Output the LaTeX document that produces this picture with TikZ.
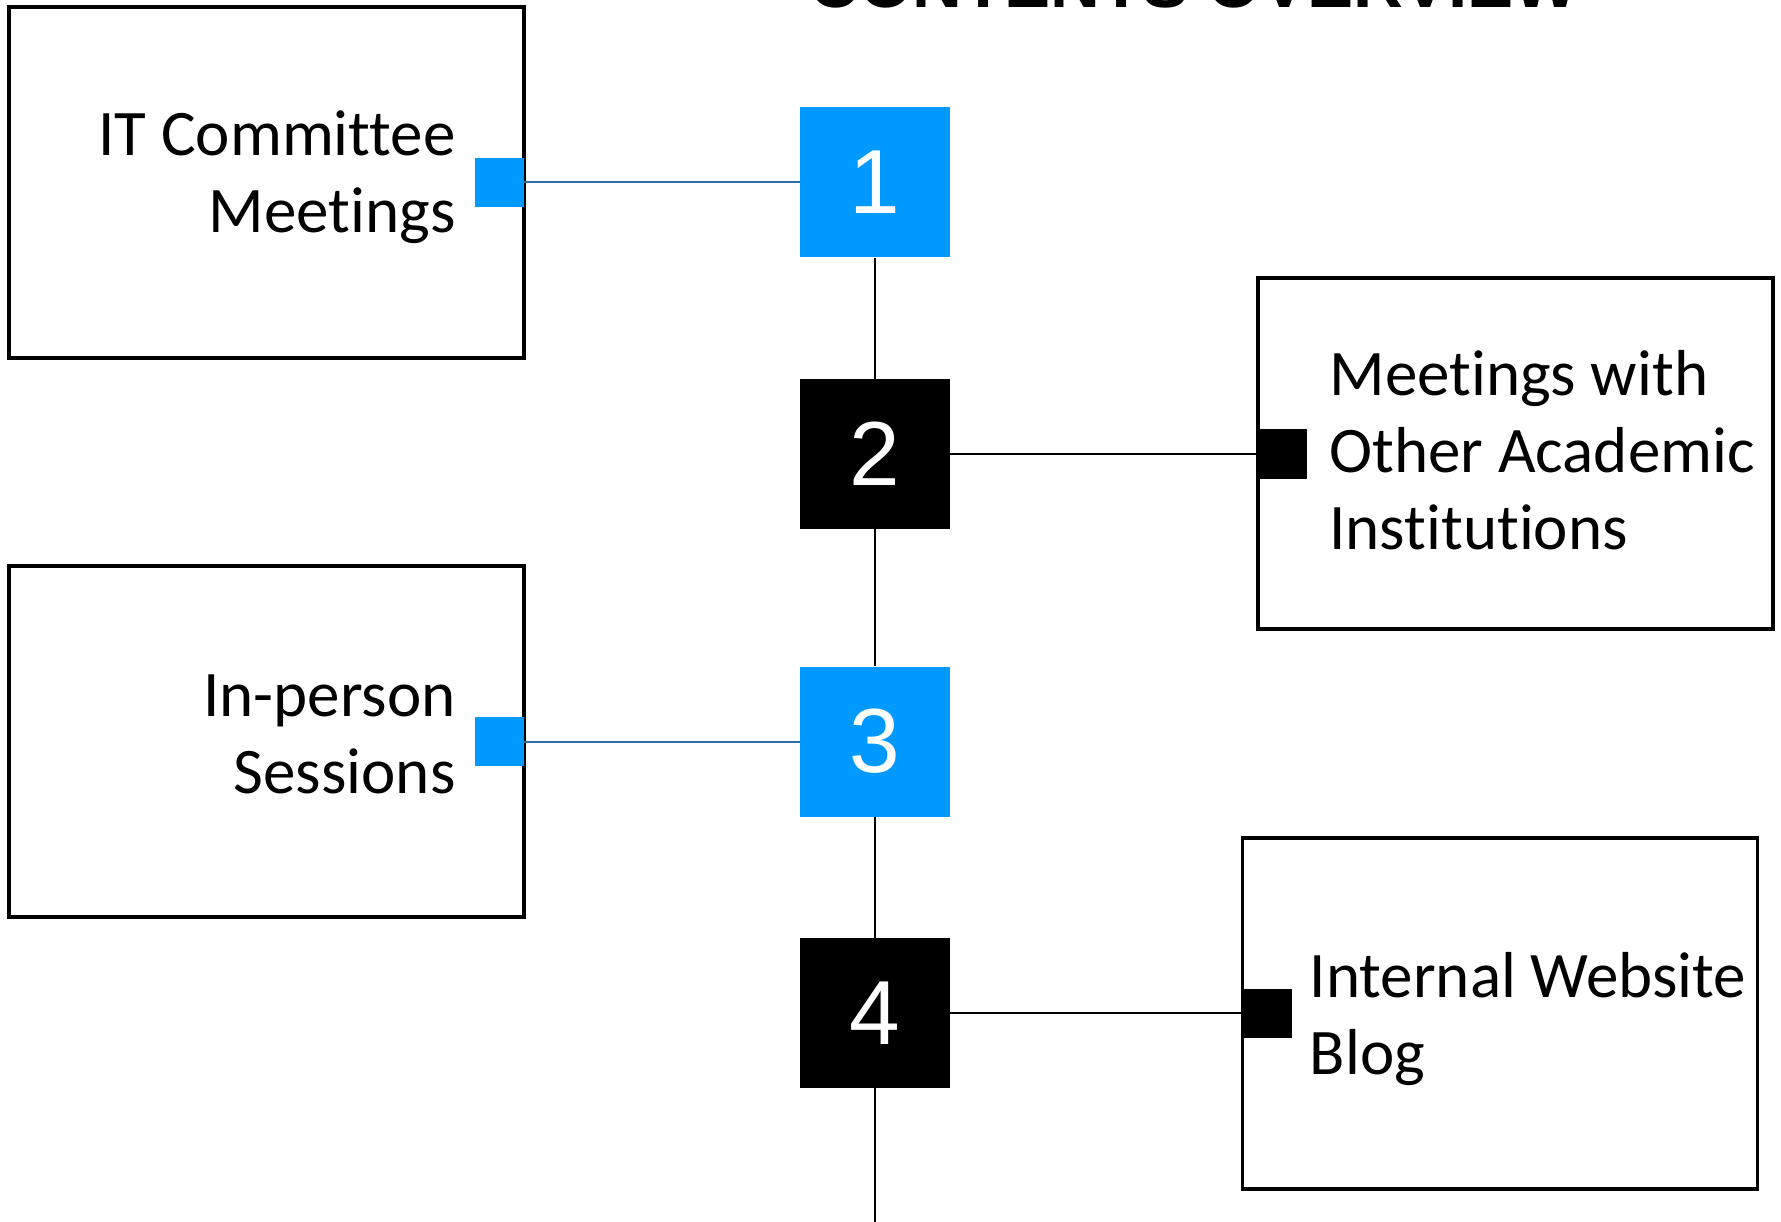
\documentclass[tikz,border=0pt]{standalone}
\usepackage{fontspec}
\setmainfont{Carlito}[RawFeature=-liga]
\newfontfamily\digitfont{Liberation Sans}
\usepackage{tikz}
\usetikzlibrary{positioning}

\definecolor{itemblue}{HTML}{0099FF}
\definecolor{linkblue}{HTML}{2E6DA4}

\begin{document}
\begin{tikzpicture}[x=1pt,y=-1pt,
  topicbox/.style = {draw, line width=3.5pt, minimum width=515pt, minimum height=351pt, inner sep=0pt},
  numbox/.style = {minimum width=150pt, minimum height=150pt, inner sep=0pt, text=white, font=\digitfont\fontsize{91}{94}\selectfont},
  tab/.style = {minimum width=49pt, minimum height=49pt, inner sep=0pt},
  caption/.style = {inner sep=0pt, font=\fontsize{65}{77}\selectfont}]

\useasboundingbox (0,0) rectangle (1781,1222);

\node[anchor=base, font=\digitfont\bfseries\fontsize{69}{72}\selectfont] (title) at (1194,8) {CONTENTS OVERVIEW};

\node[topicbox] (box1) at (266.5,182.5) {};
\node[topicbox] (box2) at (1515.5,453.5) {};
\node[topicbox] (box3) at (266.5,741.5) {};
\node[topicbox] (box4) at (1500,1013.5) {};

\node[numbox, fill=itemblue] (n1) at (875,182.5) {1};
\node[numbox, fill=black] (n2) at (875,454) {2};
\node[numbox, fill=itemblue] (n3) at (875,741.5) {3};
\node[numbox, fill=black] (n4) at (875,1013) {4};

\node[tab, fill=itemblue] (tab1) at (499.5,182.5) {};
\node[tab, fill=black] (tab2) at (1282,454) {};
\node[tab, fill=itemblue] (tab3) at (499.5,741.5) {};
\node[tab, fill=black] (tab4) at (1267,1013) {};

\node[caption, align=right, anchor=east] (txt1) at ([xshift=-70pt,yshift=5pt]box1.east) {IT Committee\\Meetings};
\node[caption, align=left, anchor=west] (txt2) at ([xshift=73pt,yshift=3pt]box2.west) {Meetings with\\Other Academic\\Institutions};
\node[caption, align=right, anchor=east] (txt3) at ([xshift=-70pt,yshift=7pt]box3.east) {In-person\\Sessions};
\node[caption, align=left, anchor=west] (txt4) at ([xshift=69pt,yshift=-6pt]box4.west) {Internal Website\\Blog};

\coordinate (end) at (875,1222);

\draw[line width=2pt] (n1) -- (n2) (n2) -- (n3) (n3) -- (n4) (n4) -- (end);
\draw[line width=2pt, linkblue] (tab1.east) -- (n1.west);
\draw[line width=2pt, linkblue] (tab3.east) -- (n3.west);
\draw[line width=2pt] (n2.east) -- (tab2.west);
\draw[line width=2pt] (n4.east) -- (tab4.west);

\end{tikzpicture}
\end{document}
